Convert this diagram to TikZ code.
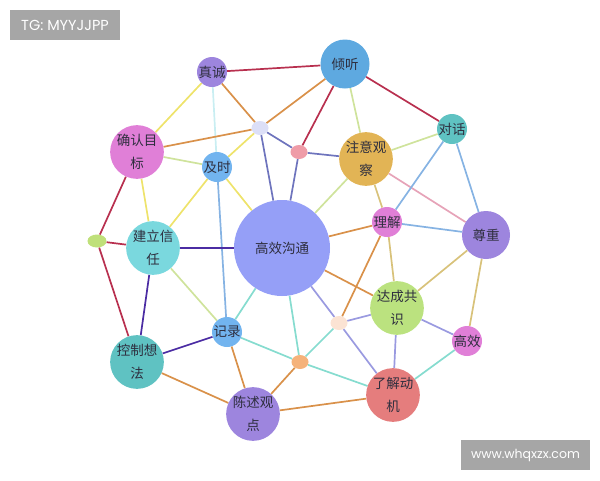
\documentclass[tikz,border=0pt]{standalone}
\usepackage{fontspec}
\setmainfont{Noto Sans CJK SC}
\newfontfamily\markfont{Poppins}
\usetikzlibrary{shapes.geometric,backgrounds}
% fills of the topics
\definecolor{hubblue}{HTML}{959FF7}
\definecolor{violet}{HTML}{9D85DE}
\definecolor{skyblue}{HTML}{5EA9E0}
\definecolor{lightsky}{HTML}{72B4EF}
\definecolor{orchid}{HTML}{E07FD7}
\definecolor{gold}{HTML}{E2B455}
\definecolor{teal}{HTML}{5FC2C2}
\definecolor{aqua}{HTML}{7AD8DE}
\definecolor{lime}{HTML}{BBE27F}
\definecolor{rose}{HTML}{E57D7D}
% small dots
\definecolor{dotlavc}{HTML}{DCDFF7}
\definecolor{dotpinkc}{HTML}{EF9CA8}
\definecolor{dotlimec}{HTML}{BFE07A}
\definecolor{dotpeachc}{HTML}{FBE3D3}
\definecolor{dotorangec}{HTML}{F5B27A}
% links
\definecolor{crimson}{HTML}{B8304F}
\definecolor{yellowline}{HTML}{EEE36B}
\definecolor{orangeline}{HTML}{D9914A}
\definecolor{greenline}{HTML}{CFE39C}
\definecolor{slateline}{HTML}{6E74BD}
\definecolor{blueline}{HTML}{86B3E3}
\definecolor{cyanline}{HTML}{C9EEF2}
\definecolor{khakiline}{HTML}{D8C27A}
\definecolor{pinkline}{HTML}{E6A3B8}
\definecolor{purpleline}{HTML}{4B2CA3}
\definecolor{tealline}{HTML}{86DCCF}
\definecolor{lavline}{HTML}{9A9AE0}
\definecolor{textgray}{HTML}{2E2E3E}
\definecolor{markgray}{HTML}{A6A6A6}
\begin{document}
\begin{tikzpicture}[x=1pt,y=-1pt,line join=round,line cap=round]
    \tikzset{topic style/.style={circle,inner sep=0pt,align=center,text=textgray,font=\fontsize{13.5}{23}\selectfont},
        dot style/.style={ellipse,inner sep=0pt,minimum width=17pt,minimum height=14pt},
        link style/.style={line width=1.7pt},
        mark style/.style={fill=markgray,text=white,inner sep=0pt}}
    \useasboundingbox (0,0) rectangle (600,480);
    \node[mark style,minimum width=110pt,minimum height=30pt,font=\markfont\fontsize{14.5}{16}\selectfont] (tg) at (65,25) {TG: MYYJJPP};
    \node[mark style,minimum width=129pt,minimum height=30pt,font=\markfont\fontsize{12.5}{14}\selectfont] (web) at (525.5,455) {www.whqxzx.com};
    % topics
    \node[topic style,fill=hubblue,minimum size=96pt] (goutong) at (282,248) {高效沟通};
    \node[topic style,fill=violet,minimum size=30pt] (zhencheng) at (212,72) {真诚};
    \node[topic style,fill=skyblue,minimum size=49pt] (qingting) at (345,64) {倾听};
    \node[topic style,fill=orchid,minimum size=48pt] (queren) at (137,152) {确认目\\标};
    \node[topic style,fill=lightsky,minimum size=30pt] (jishi) at (217,167) {及时};
    \node[topic style,fill=gold,minimum size=48pt] (zhuyi) at (366,159) {注意观\\察};
    \node[topic style,fill=teal,minimum size=30pt] (duihua) at (452,129) {对话};
    \node[topic style,fill=orchid,minimum size=30pt] (lijie) at (387,222) {理解};
    \node[topic style,fill=violet,minimum size=48pt] (zunzhong) at (486,235) {尊重};
    \node[topic style,fill=aqua,minimum size=48pt] (xinren) at (153,248) {建立信\\任};
    \node[topic style,fill=lime,minimum size=48pt] (gongshi) at (397,308) {达成共\\识};
    \node[topic style,fill=orchid,minimum size=30pt] (gaoxiao) at (467,341) {高效};
    \node[topic style,fill=lightsky,minimum size=30pt] (jilu) at (227,332) {记录};
    \node[topic style,fill=teal,minimum size=48pt] (kongzhi) at (137,362) {控制想\\法};
    \node[topic style,fill=rose,minimum size=50pt] (dongji) at (393,395) {了解动\\机};
    \node[topic style,fill=violet,minimum size=48pt] (chenshu) at (253,414) {陈述观\\点};
    % dots
    \node[dot style,fill=dotlavc] (dotlav) at (260,128) {};
    \node[dot style,fill=dotpinkc] (dotpink) at (299,152) {};
    \node[dot style,fill=dotlimec,minimum width=19pt,minimum height=13pt] (dotlime) at (97,241) {};
    \node[dot style,fill=dotpeachc] (dotpeach) at (339,323) {};
    \node[dot style,fill=dotorangec] (dotorange) at (300,362) {};
    \begin{scope}[on background layer]
        \foreach \a/\b/\c in {zhencheng/qingting/crimson, zhencheng/queren/yellowline,
            zhencheng/jishi/cyanline, zhencheng/dotlav/orangeline, qingting/dotlav/orangeline,
            qingting/dotpink/crimson, qingting/zhuyi/greenline, qingting/duihua/crimson,
            queren/dotlav/orangeline, queren/jishi/greenline, queren/xinren/yellowline,
            queren/dotlime/crimson, dotlav/jishi/yellowline, dotlav/goutong/slateline,
            dotlav/dotpink/slateline, dotpink/goutong/slateline, dotpink/zhuyi/slateline,
            jishi/xinren/yellowline, jishi/goutong/yellowline, jishi/jilu/blueline,
            zhuyi/duihua/greenline, zhuyi/goutong/greenline, zhuyi/lijie/khakiline,
            zhuyi/zunzhong/pinkline, duihua/lijie/blueline, duihua/zunzhong/blueline,
            lijie/zunzhong/blueline, lijie/goutong/orangeline, lijie/gongshi/khakiline,
            lijie/dotpeach/orangeline, goutong/gongshi/orangeline, goutong/xinren/purpleline,
            goutong/jilu/tealline, goutong/dotorange/tealline, goutong/dotpeach/lavline,
            zunzhong/gongshi/khakiline, zunzhong/gaoxiao/khakiline, dotlime/xinren/crimson,
            dotlime/kongzhi/crimson, xinren/kongzhi/purpleline, xinren/jilu/greenline,
            jilu/kongzhi/purpleline, jilu/dotorange/tealline, jilu/chenshu/orangeline,
            kongzhi/chenshu/orangeline, dotorange/chenshu/orangeline, dotorange/dotpeach/tealline,
            dotorange/dongji/tealline, dotpeach/gongshi/lavline, dotpeach/dongji/lavline,
            gongshi/gaoxiao/lavline, gongshi/dongji/lavline, gaoxiao/dongji/tealline,
            chenshu/dongji/orangeline}
        \draw[link style,\c] (\a) -- (\b);
    \end{scope}
\end{tikzpicture}
\end{document}
